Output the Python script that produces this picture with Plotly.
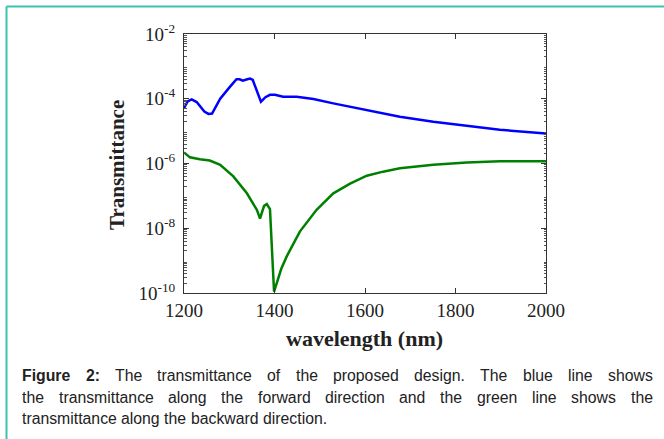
import plotly.graph_objects as go

# ---- data ----
wl_forward = [1200, 1208, 1217, 1228, 1245, 1254, 1262, 1280, 1300, 1316, 1323, 1330,
              1340, 1346, 1352, 1370, 1380, 1390, 1401, 1419, 1449, 1486, 1530, 1604,
              1677, 1751, 1825, 1898, 2000]
t_forward = [5.1e-5, 8.3e-5, 9.5e-5, 7.9e-5, 4.0e-5, 3.4e-5, 3.5e-5, 1.0e-4, 2.2e-4, 4.0e-4,
             4.0e-4, 3.6e-4, 4.0e-4, 4.2e-4, 3.8e-4, 8.1e-5, 1.12e-4, 1.32e-4, 1.32e-4,
             1.15e-4, 1.15e-4, 9.8e-5, 7.2e-5, 4.5e-5, 2.8e-5, 1.95e-5, 1.45e-5, 1.1e-5, 8.5e-6]

wl_backward = [1200, 1213, 1235, 1257, 1280, 1309, 1339, 1361, 1368, 1377, 1383, 1390,
               1399, 1405, 1415, 1427, 1456, 1493, 1530, 1567, 1604, 1640, 1677, 1751,
               1825, 1898, 2000]
t_backward = [2.2e-6, 1.55e-6, 1.35e-6, 1.23e-6, 9.1e-7, 4.0e-7, 1.2e-7, 3.7e-8, 2.0e-8,
              4.9e-8, 5.6e-8, 3.9e-8, 1.1e-10, 2.0e-10, 5.6e-10, 1.35e-9, 7.9e-9, 3.7e-8,
              1.2e-7, 2.4e-7, 4.2e-7, 5.6e-7, 7.1e-7, 9.1e-7, 1.07e-6, 1.17e-6, 1.17e-6]

x_ticks = [1200, 1400, 1600, 1800, 2000]
y_ticks = [1e-10, 1e-8, 1e-6, 1e-4, 1e-2]
y_ticktext = ["10<sup>-10</sup>", "10<sup>-8</sup>", "10<sup>-6</sup>", "10<sup>-4</sup>", "10<sup>-2</sup>"]

x_title = "wavelength (nm)"
y_title = "Transmittance"

# caption lines: (words, justified?) ; bold words are wrapped in <b>
caption_lines = [
    (["<b>Figure</b>", "<b>2:</b>", "The", "transmittance", "of", "the", "proposed", "design.",
      "The", "blue", "line", "shows"], True),
    (["the", "transmittance", "along", "the", "forward", "direction", "and", "the", "green",
      "line", "shows", "the"], True),
    (["transmittance", "along", "the", "backward", "direction."], False),
]

W, H = 664, 439
serif = "Liberation Serif, Times New Roman, serif"
sans = "Liberation Sans, Arial, sans-serif"
CAP_SIZE = 15.8

# Arial / Liberation Sans advance widths (per 1000 em) for justification
REG = dict(zip("abcdefghiklmnoprstuvwy.:", [556, 556, 500, 556, 556, 278, 556, 556, 222, 500, 222,
                                             833, 556, 556, 556, 333, 500, 278, 556, 500, 722, 500,
                                             278, 278]))
REG.update({"T": 611, "2": 556})
BOLD = {"F": 611, "i": 278, "g": 611, "u": 611, "r": 389, "e": 556, "2": 556, ":": 333}


def word_width(w):
    if w.startswith("<b>"):
        s = w[3:-4]
        return sum(BOLD.get(c, 556) for c in s) * CAP_SIZE / 1000
    return sum(REG.get(c, 556) for c in w) * CAP_SIZE / 1000


minor_vals = [m * 10.0 ** e for e in range(-10, -2) for m in range(2, 10)]

fig = go.Figure()
fig.add_trace(go.Scatter(x=wl_forward, y=t_forward, mode="lines",
                         line=dict(color="#0000ff", width=2.5), showlegend=False))
fig.add_trace(go.Scatter(x=wl_backward, y=t_backward, mode="lines",
                         line=dict(color="#008000", width=2.5), showlegend=False))

axis_common = dict(showline=True, linecolor="#333333", linewidth=1, mirror="ticks",
                   ticks="inside", tickcolor="#333333", showgrid=False, zeroline=False,
                   automargin=False,
                   tickfont=dict(family=serif, size=19, color="#222222"))

fig.update_xaxes(range=[1200, 2000], tickvals=x_ticks, ticklen=5,
                 domain=[184 / W, 546 / W], **axis_common)
fig.update_yaxes(type="log", range=[-10, -2], tickvals=y_ticks, ticktext=y_ticktext, ticklen=5,
                 domain=[1 - 293 / H, 1 - 34 / H], ticklabelstandoff=4,
                 minor=dict(tickvals=minor_vals, ticks="inside", ticklen=2.5, tickcolor="#555555"),
                 **axis_common)

anns = [
    dict(text="<b>%s</b>" % x_title, x=365 / W, y=1 - 338 / H, xref="paper", yref="paper",
         showarrow=False, font=dict(family=serif, size=22, color="#222222"),
         xanchor="center", yanchor="middle"),
    dict(text="<b>%s</b>" % y_title, x=117 / W, y=1 - 165 / H, xref="paper", yref="paper",
         showarrow=False, textangle=-90, font=dict(family=serif, size=21, color="#222222"),
         xanchor="center", yanchor="middle"),
]

left, right = 22.0, 652.5
for i, (words, justify) in enumerate(caption_lines):
    yc = 1 - (375.5 + 21.7 * i) / H
    widths = [word_width(w) for w in words]
    if justify:
        gap = (right - left - sum(widths)) / (len(words) - 1)
    else:
        gap = 0.278 * CAP_SIZE
    x = left
    for w, wd in zip(words, widths):
        anns.append(dict(text=w, x=x / W, y=yc, xref="paper", yref="paper",
                         showarrow=False, font=dict(family=sans, size=CAP_SIZE, color="#222222"),
                         xanchor="left", yanchor="middle", align="left",
                         borderpad=0, borderwidth=0))
        x += wd + gap

shapes = [
    dict(type="line", xref="paper", yref="paper", x0=6.5 / W, x1=1, y0=1 - 6.5 / H, y1=1 - 6.5 / H,
         line=dict(color="#3cc3ad", width=2)),
    dict(type="line", xref="paper", yref="paper", x0=6.5 / W, x1=6.5 / W, y0=0, y1=1 - 6.5 / H,
         line=dict(color="#3cc3ad", width=2)),
]

fig.update_layout(width=W, height=H, margin=dict(l=0, r=0, t=0, b=0),
                  paper_bgcolor="white", plot_bgcolor="white",
                  annotations=anns, shapes=shapes)

fig.write_html("out.html", config={"displayModeBar": False},
               post_script="document.body.style.margin='0px';document.body.style.overflow='hidden';")
